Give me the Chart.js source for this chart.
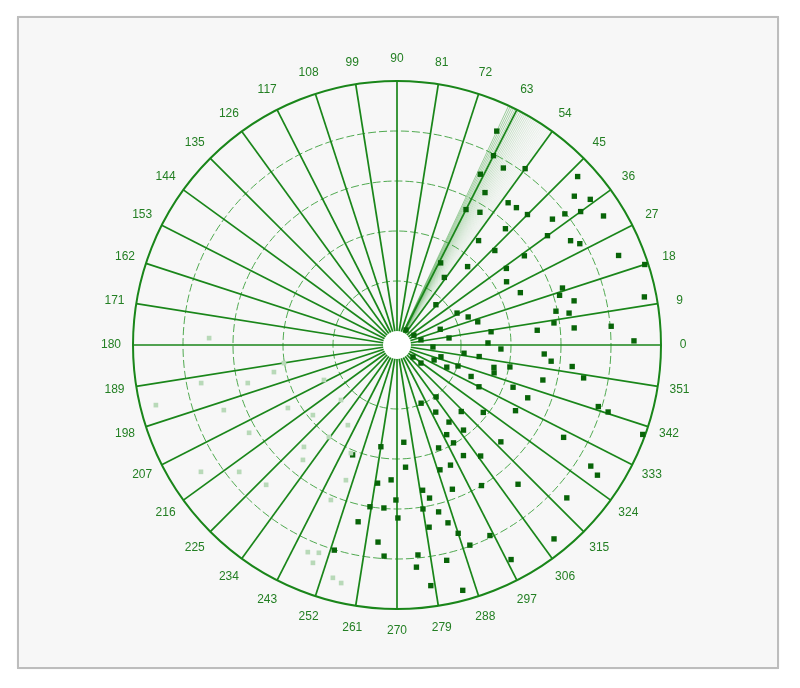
<!DOCTYPE html>
<html><head><meta charset="utf-8">
<script src="https://cdn.jsdelivr.net/npm/chart.js@4.4.1/dist/chart.umd.min.js"></script>
<style>html,body{margin:0;padding:0;background:#fff;}#wrap{width:800px;height:688px;}</style>
</head><body><div id="wrap"><canvas id="c" width="800" height="688"></canvas></div>
<script>
// ---- data ----
const angleTicks = [0,9,18,27,36,45,54,63,72,81,90,99,108,117,126,135,144,153,162,171,180,189,198,207,216,225,234,243,252,261,270,279,288,297,306,315,324,333,342,351];
const ringValues = [1,2,3,4];
const outerValue = 5;
const holeOffset = 0.28;          // radial value offset of the empty centre
const highlightFrom = 54, highlightTo = 65;   // shaded sector (degrees)

const darkAngles = [65,63,59,54,64,60,52,49,63,58,45,39,38,36,43,40,37,47,52,36,31,29,44,35,32,22,35,18,30,23,19,17,14,11,12,10.5,62,48,55,8,5.5,46,28,21.5,16,6,8,20,7.7,1.3,357.8,356.8,12,30,59,356.5,354,353,350,346.5,353,352,347,344,349,345,338,323,323,336,341,337,333,340,338,343,342.4,331,317,331,307,304,314,299,292,274,261,308,300,300,292.5,322,340,328,327,311,318,301,296,309,298,301,288,274,267.5,262,248,269.6,270.3,260.5,265.4,257.6,264.5,266.5,275.7,275,280,282,279,284,286,280,283,278,285,290,291,289,294,307,5,1,253];
const darkRadii  = [4.44,3.97,3.85,4.08,3.52,3.24,3.33,3.36,2.76,2.85,3.41,3.72,3.98,4.26,4.66,4.35,4.56,2.90,2.37,3.44,3.77,3.90,2.44,2.83,4.59,4.50,2.39,4.93,2.25,2.40,3.22,3.12,3.37,4.76,2.97,3.22,1.58,1.83,1.37,2.89,3.28,0.84,1.08,1.25,1.40,2.54,1.62,0.64,0.77,1.54,1.80,0.44,0.21,0.11,0.07,2.67,2.82,3.25,3.51,2.72,1.07,1.38,1.71,1.74,2.02,0.63,0.52,0.32,0.12,0.81,1.01,1.33,1.56,2.19,2.54,3.93,4.15,2.43,2.56,3.53,1.02,1.58,1.57,1.77,1.94,1.67,1.78,1.88,1.98,1.27,0.98,1.91,4.95,4.29,4.50,3.41,4.29,3.00,3.96,4.71,4.58,2.30,3.68,2.17,2.42,2.51,2.09,2.82,3.18,3.00,2.99,3.34,3.68,3.95,3.94,4.18,2.67,2.85,3.04,3.16,3.42,3.42,4.14,4.58,4.80,3.98,2.81,2.36,2.35,2.50,4.02,4.46,4.01];

const lightAngles = [194,191,200.6,194.3,210.7,212.9,218.8,226.9,219.8,227.6,230.7,246.9,233.5,210,192.4,177.9,189.1,205.6,224.5,238.5,246.7,249.4,248.9,254.6,256.8,246.9,249.3];
const lightRadii  = [4.69,3.71,3.42,2.80,3.16,4.39,3.77,3.55,1.91,2.48,2.69,2.07,2.01,2.24,2.24,3.48,2.01,1.34,1.29,1.60,4.23,4.16,4.39,4.55,4.61,3.09,2.61];

// ---- helpers ----
function toXY(angles, radii){
  return angles.map((a,i)=>{
    const r = radii[i] + holeOffset, t = a*Math.PI/180;
    return {x: r*Math.cos(t), y: r*Math.sin(t)};
  });
}
const LIM = outerValue + holeOffset;
const GREEN = '#1a861a';

const polarGrid = {
  id:'polarGrid',
  beforeDraw(chart){
    const ctx = chart.ctx;
    ctx.save();
    ctx.fillStyle = '#ffffff';
    ctx.fillRect(0,0,chart.width,chart.height);
    ctx.shadowColor = 'rgba(0,0,0,0.25)';
    ctx.shadowBlur = 2;
    ctx.fillStyle = '#f7f7f7';
    ctx.fillRect(18,17,760,651);
    ctx.shadowBlur = 0;
    ctx.strokeStyle = '#bdbdbd';
    ctx.lineWidth = 2;
    ctx.strokeRect(18,17,760,651);
    ctx.restore();
  },
  beforeDatasetsDraw(chart){
    const ctx = chart.ctx, xs = chart.scales.x, ys = chart.scales.y;
    const cx = xs.getPixelForValue(0), cy = ys.getPixelForValue(0);
    const rp = v => xs.getPixelForValue(v + holeOffset) - cx;
    const R = rp(outerValue);
    ctx.save();
    // highlighted sector: fan of fading lines
    for (let a = highlightTo; a >= highlightFrom; a -= 0.4){
      const f = (a - highlightFrom)/(highlightTo - highlightFrom);
      const t = a*Math.PI/180;
      ctx.strokeStyle = 'rgba(20,140,20,' + (0.05 + 0.45*f*f).toFixed(3) + ')';
      ctx.lineWidth = 0.8;
      ctx.beginPath();
      ctx.moveTo(cx, cy);
      ctx.lineTo(cx + R*Math.cos(t), cy - R*Math.sin(t));
      ctx.stroke();
    }
    // dashed rings
    ctx.strokeStyle = 'rgba(50,155,50,0.85)';
    ctx.lineWidth = 1;
    ctx.setLineDash([8,3]);
    ringValues.forEach(v=>{
      ctx.beginPath(); ctx.arc(cx,cy,rp(v),0,Math.PI*2); ctx.stroke();
    });
    ctx.setLineDash([]);
    // spokes
    ctx.strokeStyle = GREEN;
    ctx.lineWidth = 1.7;
    angleTicks.forEach(a=>{
      const t = a*Math.PI/180;
      ctx.beginPath();
      ctx.moveTo(cx, cy);
      ctx.lineTo(cx + R*Math.cos(t), cy - R*Math.sin(t));
      ctx.stroke();
    });
    // outer circle
    ctx.lineWidth = 2;
    ctx.beginPath(); ctx.arc(cx,cy,R,0,Math.PI*2); ctx.stroke();
    // empty centre
    ctx.fillStyle = '#ffffff';
    ctx.beginPath(); ctx.arc(cx,cy,rp(0),0,Math.PI*2); ctx.fill();
    // angle labels
    ctx.fillStyle = '#237f23';
    ctx.font = '12px "Liberation Sans", Arial, sans-serif';
    ctx.textAlign = 'center';
    ctx.textBaseline = 'middle';
    const RL = R + 22;
    angleTicks.forEach(a=>{
      const t = a*Math.PI/180;
      ctx.fillText(String(a), cx + RL*Math.cos(t), cy - RL*Math.sin(t));
    });
    ctx.restore();
  }
};

new Chart(document.getElementById('c'), {
  type:'scatter',
  data:{datasets:[
    {label:'faint', data: toXY(lightAngles, lightRadii), pointStyle:'rect', pointRadius:3.3,
     backgroundColor:'#b8d9b8', borderColor:'#b8d9b8', borderWidth:0},
    {label:'points', data: toXY(darkAngles, darkRadii), pointStyle:'rect', pointRadius:3.8,
     backgroundColor:'#086408', borderColor:'#086408', borderWidth:0}
  ]},
  options:{
    responsive:false, animation:false, devicePixelRatio:1,
    layout:{padding:{left:133,right:139,top:81,bottom:79}},
    plugins:{legend:{display:false}, tooltip:{enabled:false}},
    scales:{
      x:{type:'linear', min:-LIM, max:LIM, display:false},
      y:{type:'linear', min:-LIM, max:LIM, display:false}
    }
  },
  plugins:[polarGrid]
});
</script>
</body></html>
